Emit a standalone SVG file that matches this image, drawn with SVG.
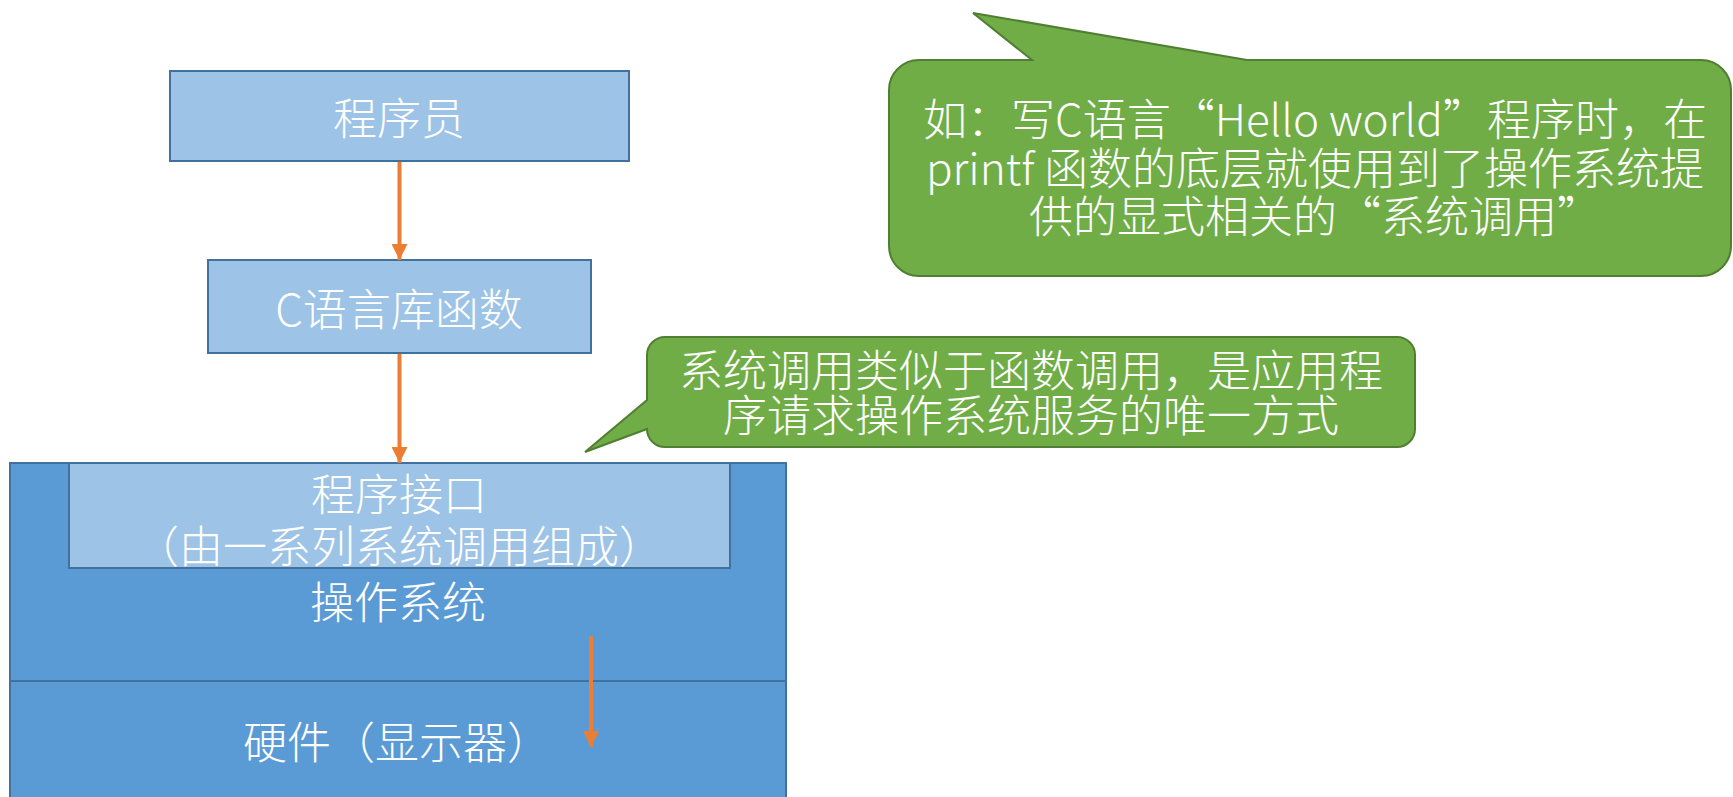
<svg xmlns="http://www.w3.org/2000/svg" width="1733" height="797" viewBox="0 0 1733 797">
<style>
.t{font-family:"Noto Sans CJK SC","Noto Sans",sans-serif;font-size:44px;font-weight:300;fill:#ffffff;text-anchor:middle;dominant-baseline:central}
.lb{fill:#9dc3e6;stroke:#41719c;stroke-width:2}
.db{fill:#5b9bd5;stroke:#41719c;stroke-width:2}
.co{fill:#70ad47;stroke:#507e32;stroke-width:2}
.ar{stroke:#ed7d31;stroke-width:4;fill:none;marker-end:url(#ah)}
</style>
<defs>
<marker id="ah" markerUnits="userSpaceOnUse" markerWidth="16" markerHeight="16" viewBox="0 0 16 16" refX="16" refY="8" orient="auto">
<path d="M0,0 L16,8 L0,16 Z" fill="#ed7d31"/>
</marker>
</defs>
<rect width="1733" height="797" fill="#ffffff"/>
<g id="os">
<rect class="db" x="10" y="463" width="776" height="340"/>
<line x1="10" y1="681" x2="786" y2="681" stroke="#41719c" stroke-width="2"/>
<text class="t" x="398" y="600">操作系统</text>
</g>
<g id="hardware">
<text class="t" x="243" y="740" style="text-anchor:start">硬件（显示器）</text>
</g>
<g id="interface">
<rect class="lb" x="69" y="463" width="661" height="105"/>
<text class="t" x="399" y="492">程序接口</text>
<text class="t" x="399" y="544">（由一系列系统调用组成）</text>
</g>
<g id="programmer">
<rect class="lb" x="170" y="71" width="459" height="90"/>
<text class="t" x="399" y="116">程序员</text>
</g>
<g id="clib">
<rect class="lb" x="208" y="260" width="383" height="93"/>
<text class="t" x="399" y="307">C语言库函数</text>
</g>
<g id="callout-hello">
<path class="co" d="M919,60 H1032 L973,13 L1247,60 H1701 A30,30 0 0 1 1731,90 V246 A30,30 0 0 1 1701,276 H919 A30,30 0 0 1 889,246 V90 A30,30 0 0 1 919,60 Z"/>
<text class="t" x="1315" y="117">如：写C语言“Hello world”程序时，在</text>
<text class="t" x="1315" y="166">printf 函数的底层就使用到了操作系统提</text>
<text class="t" x="1315" y="214">供的显式相关的“系统调用”</text>
</g>
<g id="callout-syscall">
<path class="co" d="M665,337 H1397 A18,18 0 0 1 1415,355 V429 A18,18 0 0 1 1397,447 H665 A18,18 0 0 1 647,429 L585,452 L647,400 V355 A18,18 0 0 1 665,337 Z"/>
<text class="t" x="1031" y="368">系统调用类似于函数调用，是应用程</text>
<text class="t" x="1031" y="413">序请求操作系统服务的唯一方式</text>
</g>
<g id="connectors">
<line class="ar" x1="399.5" y1="162" x2="399.5" y2="260"/>
<line class="ar" x1="399.5" y1="354" x2="399.5" y2="463"/>
<line class="ar" x1="591" y1="636" x2="591" y2="747"/>
</g>
</svg>
